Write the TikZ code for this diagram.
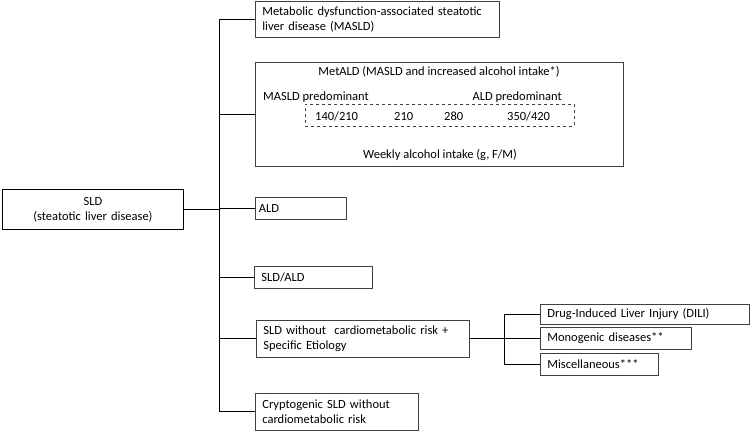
\documentclass[tikz,border=0pt]{standalone}
\usepackage{fontspec}
\setmainfont{Carlito}
\begin{document}
\begin{tikzpicture}[x=1pt,y=-1pt,
  box/.style={draw=black!75,line width=0.7pt,rectangle,inner xsep=7pt,inner ysep=0pt,
    align=left,anchor=north west,font=\fontsize{12.5}{15}\selectfont},
  txt/.style={inner sep=0pt,font=\fontsize{12.5}{15}\selectfont},
  conn/.style={draw=black,line width=0.9pt}]
\useasboundingbox (0,0) rectangle (752,432);
% main boxes
\node[box,draw=black,line width=0.9pt,align=center,text width=167pt,minimum height=40pt] (sld) at (2,189) {SLD\\(steatotic liver disease)};
\node[box,text width=230pt,minimum height=36pt] (masld) at (255,1) {Metabolic dysfunction-associated steatotic\\liver disease (MASLD)};
\node[box,text width=354pt,minimum height=104pt] (metald) at (255,62) {};
\node[box,inner xsep=3.5pt,text width=84pt,minimum height=22pt] (ald) at (255,197) {ALD};
\node[box,text width=104pt,minimum height=22pt] (sldald) at (254,266) {SLD/ALD};
\node[box,text width=199pt,minimum height=37pt] (sldwo) at (256,320) {SLD without\ \ cardiometabolic risk +\\Specific Etiology};
\node[box,text width=149pt,minimum height=37pt] (crypto) at (255,393) {Cryptogenic SLD without\\cardiometabolic risk};
\node[box,text width=195pt,minimum height=20pt] (dili) at (540,304) {Drug-Induced Liver Injury (DILI)};
\node[box,text width=137pt,minimum height=22pt] (mono) at (540,327) {Monogenic diseases**};
\node[box,text width=104pt,minimum height=22pt] (misc) at (540,353) {Miscellaneous***};
% MetALD contents
\node[txt] (title) at (439,72) {MetALD (MASLD and increased alcohol intake*)};
\node[txt,anchor=base west] (mpred) at (263,100) {MASLD predominant};
\node[txt,anchor=base east] (apred) at (562,100) {ALD predominant};
\node[draw=black!75,dashed,line width=0.6pt,rectangle,inner sep=0pt,minimum width=269pt,minimum height=22pt,anchor=north west] (dash) at (305,104) {};
\node[txt,anchor=base west] (n1) at (315,120) {140/210};
\node[txt,anchor=base west] (n2) at (394,120) {210};
\node[txt,anchor=base west] (n3) at (444,120) {280};
\node[txt,anchor=base west] (n4) at (507,120) {350/420};
\node[txt] (weekly) at (440,155) {Weekly alcohol intake (g, F/M)};
% trunks
\coordinate (tr) at (219,0);
\coordinate (tr2) at (504,0);
\draw[conn] (tr |- masld.west) -- (tr |- crypto.west);
\draw[conn] (sld.east) -- (tr |- sld.east);
\foreach \n in {masld,metald,ald,sldald,sldwo,crypto}
  \draw[conn] (tr |- \n.west) -- (\n.west);
\draw[conn] (sldwo.east) -- (tr2 |- sldwo.east);
\draw[conn] (tr2 |- dili.west) -- (tr2 |- misc.west);
\foreach \n in {dili,mono,misc}
  \draw[conn] (tr2 |- \n.west) -- (\n.west);
\end{tikzpicture}
\end{document}
